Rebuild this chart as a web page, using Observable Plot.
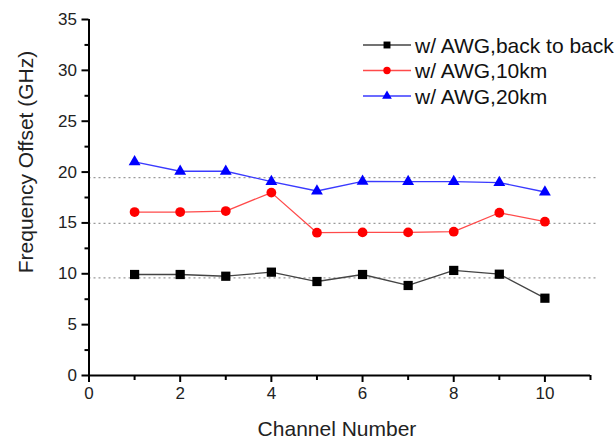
<!DOCTYPE html>
<html>
<head>
<meta charset="utf-8">
<script src="https://cdn.jsdelivr.net/npm/d3@7"></script>
<script src="https://cdn.jsdelivr.net/npm/@observablehq/plot@0.6"></script>
<style>
  html, body { margin: 0; padding: 0; background: #fff; }
  svg { font-family: "Liberation Sans", Arial, sans-serif; }
</style>
</head>
<body>
<div id="chart"></div>
<script>
const channels = [1, 2, 3, 4, 5, 6, 7, 8, 9, 10];
const backToBack = [9.93, 9.93, 9.76, 10.16, 9.24, 9.93, 8.85, 10.33, 9.96, 7.6];
const km10 = [16.07, 16.07, 16.17, 17.98, 14.04, 14.07, 14.07, 14.14, 16.0, 15.12];
const km20 = [21.0, 20.08, 20.08, 19.06, 18.14, 19.08, 19.07, 19.07, 18.97, 18.04];
const seriesNames = ["w/ AWG,back to back", "w/ AWG,10km", "w/ AWG,20km"];
const refLevels = [19.46, 14.96, 9.6];
const refExtent = [0, 11.15];
const xMajor = [0, 2, 4, 6, 8, 10];
const xMinor = [1, 3, 5, 7, 9, 11];
const yMajor = [0, 5, 10, 15, 20, 25, 30, 35];
const yMinor = [2.5, 7.5, 12.5, 17.5, 22.5, 27.5, 32.5];

const styles = [
  {line: "#444444", fill: "#000000", symbol: "square", r: 5.2, lr: 3.9},
  {line: "#ff4a4a", fill: "#ff0000", symbol: "circle", r: 4.9, lr: 3.7},
  {line: "#3a3aff", fill: "#0000ff", symbol: "triangle", r: 4.4, lr: 3.6}
];
const values = [backToBack, km10, km20];
const rows = [];
values.forEach((vals, s) => vals.forEach((v, i) => rows.push({series: seriesNames[s], s, channel: channels[i], value: v})));

const marks = [
  Plot.ruleY(refLevels, {x1: refExtent[0], x2: refExtent[1], stroke: "#9a9a9a", strokeWidth: 1.3, strokeDasharray: "2,3"})
];
styles.forEach((st, s) => {
  const d = rows.filter(r => r.s === s);
  marks.push(Plot.line(d, {x: "channel", y: "value", stroke: st.line, strokeWidth: 1.3}));
  marks.push(Plot.dot(d, {x: "channel", y: "value", symbol: () => st.symbol, r: st.r, fill: st.fill, stroke: "none"}));
});
marks.push(
  Plot.axisX({ticks: xMajor, tickSize: 7, tickPadding: 4, tickFormat: d => d, fontSize: 17, color: "#222", stroke: "#000", strokeWidth: 2, label: null}),
  Plot.axisX({ticks: xMinor, tickSize: 5, tickFormat: null, text: null, stroke: "#000", strokeWidth: 2, label: null}),
  Plot.axisY({ticks: yMajor, tickSize: 7, tickPadding: 5, tickFormat: d => d, fontSize: 17, color: "#222", stroke: "#000", strokeWidth: 2, label: null}),
  Plot.axisY({ticks: yMinor, tickSize: 4, text: null, stroke: "#000", strokeWidth: 2, label: null}),
  Plot.ruleX([0], {stroke: "#000", strokeWidth: 2}),
  Plot.ruleY([0], {stroke: "#000", strokeWidth: 2})
);

const chart = Plot.plot({
  width: 615,
  height: 439,
  marginTop: 19,
  marginRight: 25,
  marginBottom: 64,
  marginLeft: 88.5,
  x: {domain: [0, 11]},
  y: {domain: [0, 35]},
  symbol: {type: "identity"},
  style: {fontFamily: "Liberation Sans, Arial, sans-serif", background: "#fff", overflow: "visible"},
  marks
});
document.getElementById("chart").appendChild(chart);

const svg = d3.select(chart);
svg.append("text")
  .attr("transform", "translate(25,162) rotate(-90)")
  .attr("text-anchor", "middle").attr("dominant-baseline", "central")
  .attr("font-size", 21).attr("fill", "#222")
  .text("Frequency Offset (GHz)");
svg.append("text")
  .attr("x", 337).attr("y", 428)
  .attr("text-anchor", "middle").attr("dominant-baseline", "central")
  .attr("font-size", 21).attr("fill", "#222")
  .text("Channel Number");

const legend = svg.append("g");
const symbolMap = {square: d3.symbolSquare, circle: d3.symbolCircle, triangle: d3.symbolTriangle};
const rowY = [45, 70.5, 96];
seriesNames.forEach((name, s) => {
  const st = styles[s];
  const y = rowY[s];
  legend.append("line").attr("x1", 363).attr("x2", 411).attr("y1", y).attr("y2", y)
    .attr("stroke", st.line).attr("stroke-width", 1.3);
  legend.append("path")
    .attr("d", d3.symbol(symbolMap[st.symbol], Math.PI * st.lr * st.lr)())
    .attr("transform", `translate(387,${y})`).attr("fill", st.fill);
  legend.append("text").attr("x", 415).attr("y", y)
    .attr("text-anchor", "start")
    .attr("dominant-baseline", "central").attr("font-size", 21).attr("fill", "#111")
    .text(name);
});
</script>
</body>
</html>
